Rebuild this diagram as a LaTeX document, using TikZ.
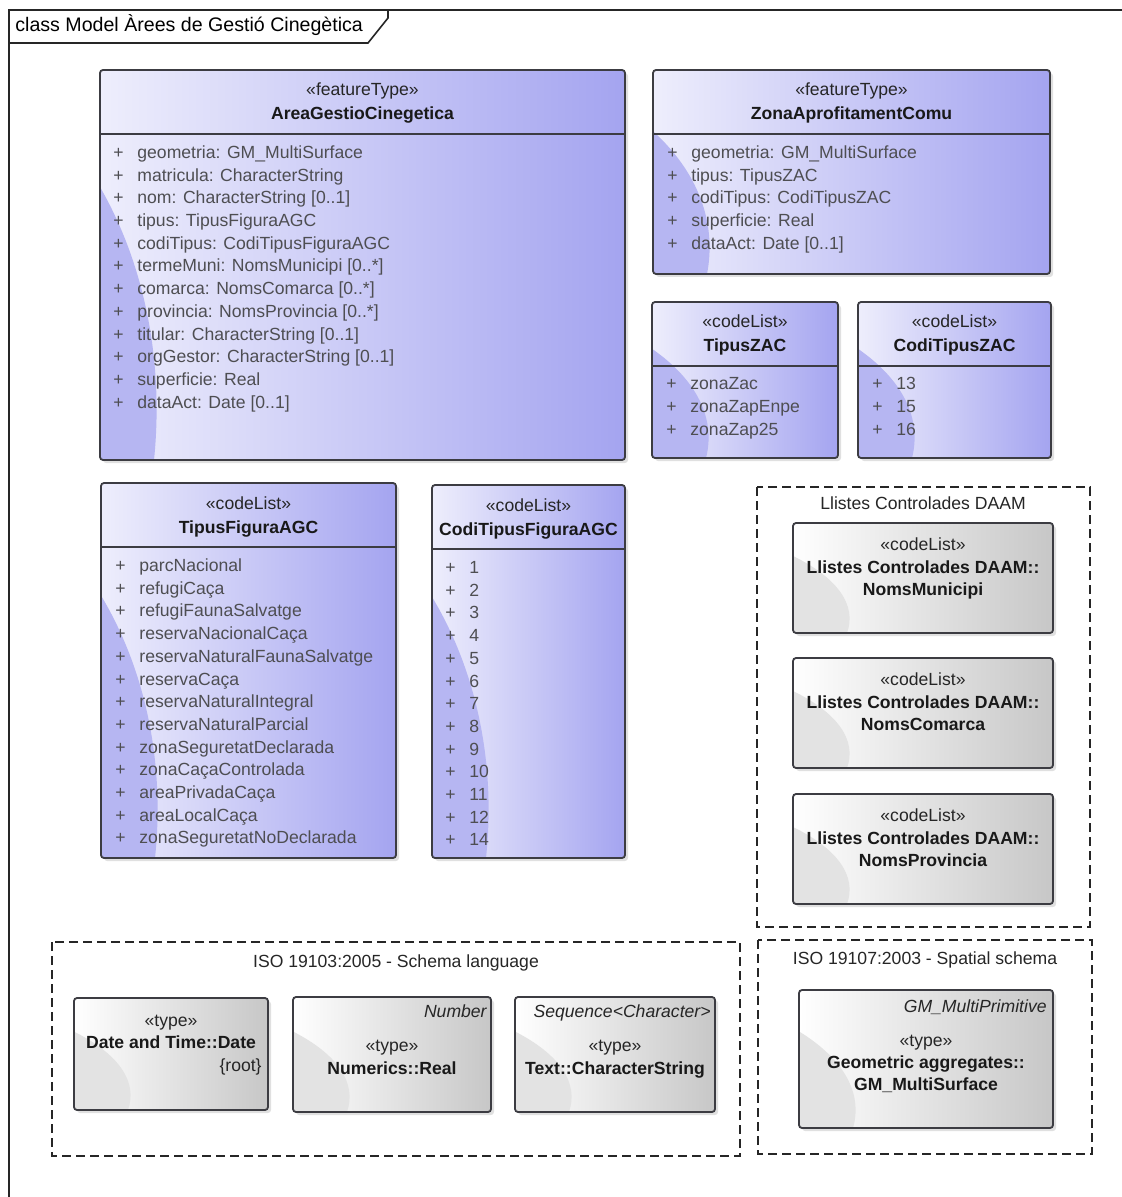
\documentclass[tikz,border=0pt]{standalone}
\usepackage{fontspec}
\setmainfont{Liberation Sans}
\definecolor{umllight}{RGB}{238,238,252}
\definecolor{umlblue}{RGB}{164,164,240}
\definecolor{umlswoosh}{RGB}{182,182,242}
\definecolor{boxedge}{RGB}{60,60,66}
\definecolor{attrtext}{RGB}{78,78,82}
% box with shadow, shading and the left swoosh
\newcommand\classbox[6]{%
  \fill[black,opacity=.12,rounded corners=1.5pt] (#3+3,#4+3) rectangle (#5+3,#6+3);
  \begin{scope}
    \clip[rounded corners=1.5pt] (#3,#4) rectangle (#5,#6);
    \shade[#2 shade] (#3,#4) rectangle (#5,#6);
    \fill[#2 swoosh] (#3,{#4+0.3*(#6-#4)}) .. controls ({#3+45},{#4+0.5*(#6-#4)}) and ({#3+64},{#4+0.75*(#6-#4)}) .. ({#3+54},#6) -- (#3,#6) -- cycle;
  \end{scope}
  \draw[boxline] (#3,#4) coordinate (#1 nw) rectangle (#5,#6) coordinate (#1 se);}
\newcommand\classhead[6]{%
  \draw[boxline] (#2,#4+64) -- (#3,#4+64);
  \node[stereo] (#1 st) at ({(#2+#3)/2},#4+26) {«#5»};
  \node[cname] (#1 nm) at ({(#2+#3)/2},#4+50) {#6};}
\newcommand\attrlist[4]{%
  \foreach [count=\i] \txt in {#4}
  {\node[attr] (#1 p\i) at (#2,{#3+22.7*(\i-1)}) {+};
   \node[attr] (#1 a\i) at (#2+24,{#3+22.7*(\i-1)}) {\txt};}}
\begin{document}
\begin{tikzpicture}[x={(0.5pt,0)},y={(0,-0.5pt)},inner sep=0pt,
  font=\fontsize{8.8}{10.5}\selectfont,
  boxline/.style={draw=boxedge,line width=0.9pt,rounded corners=1.5pt},
  blue shade/.style={left color=umllight,right color=umlblue},
  blue swoosh/.style={fill=umlswoosh},
  gray shade/.style={left color=white,right color=black!22},
  gray swoosh/.style={fill=black!11},
  pkg/.style={draw=black!85,line width=0.9pt,dash pattern=on 4.5pt off 2.5pt},
  attr/.style={anchor=base west,text=attrtext},
  stereo/.style={anchor=base,text=black!85},
  cname/.style={anchor=base,text=black!90,font=\fontsize{8.8}{10.5}\selectfont\bfseries},
  pkglabel/.style={anchor=base,text=black!85},
  tagtext/.style={anchor=base east,text=black!85,font=\fontsize{8.8}{10.5}\selectfont\itshape}]
  \useasboundingbox (0,0) rectangle (1121,1197);
  \fill[white] (0,0) rectangle (1121,1197);
  % frame and its tab
  \draw[line width=0.8pt,black!85] (9,1210) -- (9,10) -- (1130,10);
  \draw[line width=0.8pt,black!85] (9,43) -- (368,43) -- (388,18) -- (388,10);
  \node[anchor=base west,font=\fontsize{9.8}{12}\selectfont] (title) at (15,32) {class Model Àrees de Gestió Cinegètica};

  \classbox{agc}{blue}{100}{70}{625}{460}
  \classhead{agc}{100}{625}{70}{featureType}{AreaGestioCinegetica}
  \attrlist{agc}{113}{158.5}{geometria: GM\_MultiSurface, matricula: CharacterString, nom: CharacterString [0..1], tipus: TipusFiguraAGC, codiTipus: CodiTipusFiguraAGC, termeMuni: NomsMunicipi [0..*], comarca: NomsComarca [0..*], provincia: NomsProvincia [0..*], titular: CharacterString [0..1], orgGestor: CharacterString [0..1], superficie: Real, dataAct: Date [0..1]}

  \classbox{zac}{blue}{653}{70}{1050}{274}
  \classhead{zac}{653}{1050}{70}{featureType}{ZonaAprofitamentComu}
  \attrlist{zac}{667}{158.5}{geometria: GM\_MultiSurface, tipus: TipusZAC, codiTipus: CodiTipusZAC, superficie: Real, dataAct: Date [0..1]}

  \classbox{tzac}{blue}{652}{302}{838}{458}
  \classhead{tzac}{652}{838}{302}{codeList}{TipusZAC}
  \attrlist{tzac}{666}{390}{zonaZac, zonaZapEnpe, zonaZap25}

  \classbox{ctzac}{blue}{858}{302}{1051}{458}
  \classhead{ctzac}{858}{1051}{302}{codeList}{CodiTipusZAC}
  \attrlist{ctzac}{872}{390}{13, 15, 16}

  \classbox{tfig}{blue}{101}{483}{396}{858}
  \classhead{tfig}{101}{396}{483}{codeList}{TipusFiguraAGC}
  \attrlist{tfig}{115}{571.5}{parcNacional, refugiCaça, refugiFaunaSalvatge, reservaNacionalCaça, reservaNaturalFaunaSalvatge, reservaCaça, reservaNaturalIntegral, reservaNaturalParcial, zonaSeguretatDeclarada, zonaCaçaControlada, areaPrivadaCaça, areaLocalCaça, zonaSeguretatNoDeclarada}

  \classbox{ctfig}{blue}{432}{485}{625}{858}
  \classhead{ctfig}{432}{625}{485}{codeList}{CodiTipusFiguraAGC}
  \attrlist{ctfig}{445}{573.5}{1, 2, 3, 4, 5, 6, 7, 8, 9, 10, 11, 12, 14}

  % package Llistes Controlades DAAM
  \draw[pkg] (757,487) rectangle (1090,927);
  \node[pkglabel] (daam) at (923,509) {Llistes Controlades DAAM};
  \foreach \nm/\Y in {NomsMunicipi/523, NomsComarca/658, NomsProvincia/794}
  {\classbox{\nm}{gray}{793}{\Y}{1053}{\Y+110}
   \node[stereo] (\nm st) at (923,\Y+27) {«codeList»};
   \node[cname] (\nm pk) at (923,\Y+50) {Llistes Controlades DAAM::};
   \node[cname] (\nm nm) at (923,\Y+72) {\nm};}

  % package ISO 19103
  \draw[pkg] (52,942) rectangle (740,1156);
  \node[pkglabel] (iso103) at (396,967) {ISO 19103:2005 - Schema language};
  \classbox{date}{gray}{74}{998}{268}{1110}
  \node[stereo] (date st) at (171,1026) {«type»};
  \node[cname] (date nm) at (171,1048) {Date and Time::Date};
  \node[anchor=base east,text=black!85] (date tag) at (262,1071) {\{root\}};
  \classbox{real}{gray}{293}{997}{491}{1112}
  \node[tagtext] (real tag) at (487,1017) {Number};
  \node[stereo] (real st) at (392,1051) {«type»};
  \node[cname] (real nm) at (392,1074) {Numerics::Real};
  \classbox{str}{gray}{515}{997}{715}{1112}
  \node[tagtext] (str tag) at (711,1017) {Sequence<Character>};
  \node[stereo] (str st) at (615,1051) {«type»};
  \node[cname] (str nm) at (615,1074) {Text::CharacterString};

  % package ISO 19107
  \draw[pkg] (758,940) rectangle (1092,1154);
  \node[pkglabel] (iso107) at (925,964) {ISO 19107:2003 - Spatial schema};
  \classbox{gm}{gray}{799}{990}{1053}{1128}
  \node[tagtext] (gm tag) at (1047,1012) {GM\_MultiPrimitive};
  \node[stereo] (gm st) at (926,1046) {«type»};
  \node[cname] (gm pk) at (926,1068) {Geometric aggregates::};
  \node[cname] (gm nm) at (926,1090) {GM\_MultiSurface};
\end{tikzpicture}
\end{document}
